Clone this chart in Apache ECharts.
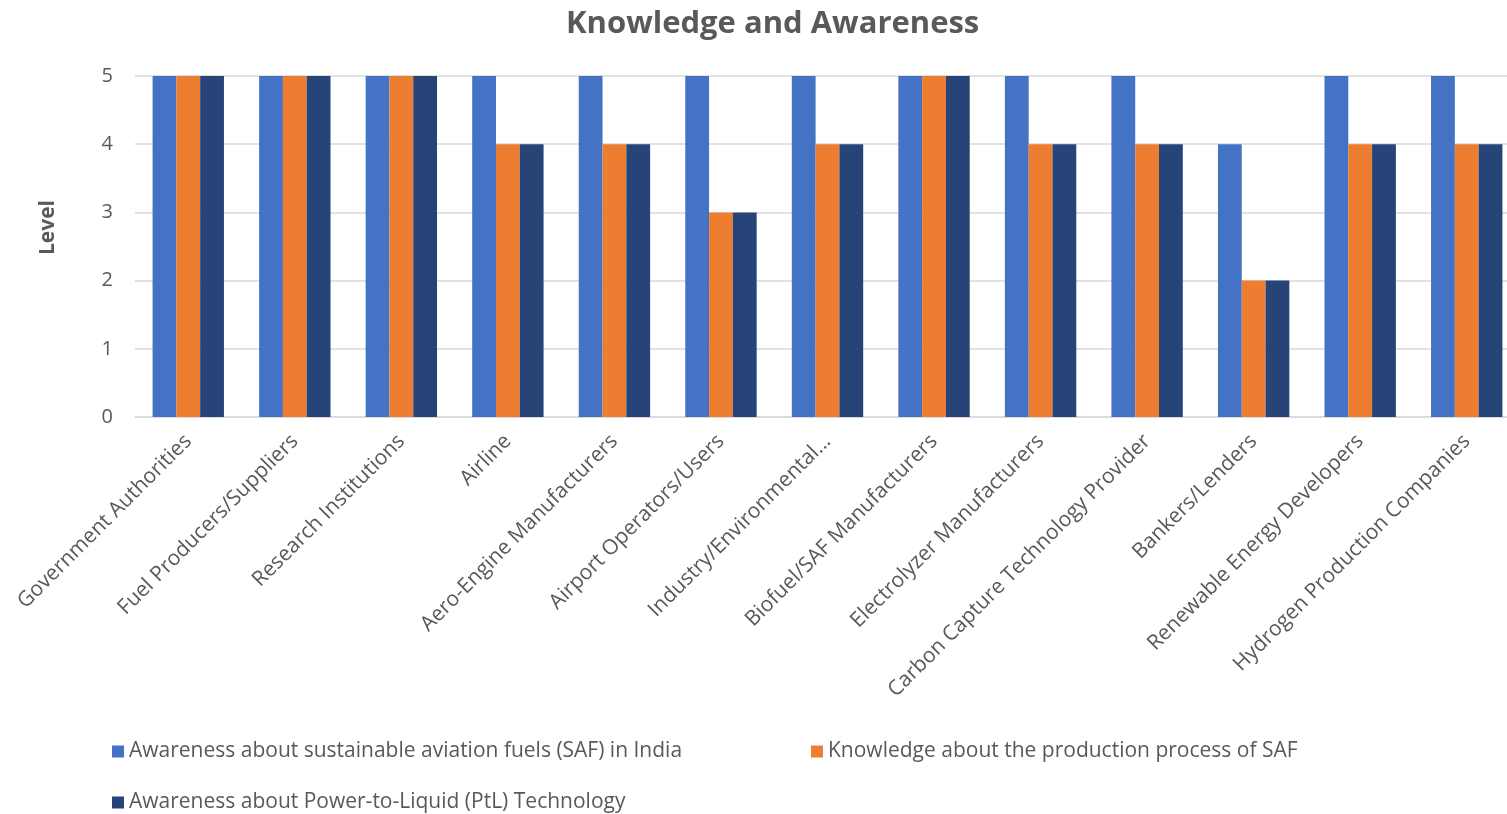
<!DOCTYPE html>
<html>
<head>
<meta charset="utf-8">
<script src="https://cdn.jsdelivr.net/npm/echarts@6/dist/echarts.min.js"></script>
<style>
  html, body { margin: 0; padding: 0; background: #fff; overflow: hidden; }
  /* the plot area runs a little past the right edge of the window */
  #chart { width: 1530px; height: 814px; }
</style>
</head>
<body>
<div id="chart"></div>
<script>
// Stakeholder groups along the x axis
const categories = [
  'Government Authorities', 'Fuel Producers/Suppliers', 'Research Institutions',
  'Airline', 'Aero-Engine Manufacturers', 'Airport Operators/Users',
  'Industry/Environmental...', 'Biofuel/SAF Manufacturers', 'Electrolyzer Manufacturers',
  'Carbon Capture Technology Provider', 'Bankers/Lenders', 'Renewable Energy Developers',
  'Hydrogen Production Companies'
];

const seriesNames = [
  'Awareness about sustainable aviation fuels (SAF) in India',
  'Knowledge about the production process of SAF',
  'Awareness about Power-to-Liquid (PtL) Technology'
];

const safAwareness  = [5, 5, 5, 5, 5, 5, 5, 5, 5, 5, 4, 5, 5];
const safKnowledge  = [5, 5, 5, 4, 4, 3, 4, 5, 4, 4, 2, 4, 4];
const ptlAwareness  = [5, 5, 5, 4, 4, 3, 4, 5, 4, 4, 2, 4, 4];

const yTicks = [0, 1, 2, 3, 4, 5];

const colors = ['#4472C4', '#ED7D31', '#264478'];
const font = 'Open Sans, Noto Sans, sans-serif';
const textColor = '#595959';

const chart = echarts.init(document.getElementById('chart'));

const legendBase = {
  orient: 'horizontal',
  icon: 'rect',
  itemWidth: 12,
  itemHeight: 12,
  itemGap: 8,
  textStyle: { fontFamily: font, fontSize: 21, color: textColor },
  selectedMode: false
};

chart.setOption({
  animation: false,
  color: colors,
  title: {
    text: 'Knowledge and Awareness',
    left: 561,
    top: 4,
    textStyle: { fontFamily: font, fontSize: 31, fontWeight: 'bold', color: textColor }
  },
  legend: [
    Object.assign({}, legendBase, { data: [seriesNames[0]], left: 107, top: 736 }),
    Object.assign({}, legendBase, { data: [seriesNames[1]], left: 806, top: 736 }),
    Object.assign({}, legendBase, { data: [seriesNames[2]], left: 107, top: 787 })
  ],
  grid: { left: 135, width: 1385, top: 76, height: 341, containLabel: false },
  graphic: [{
    type: 'text',
    left: 38,
    top: 200,
    rotation: Math.PI / 2,
    style: {
      text: 'Level',
      fontFamily: font,
      fontSize: 21,
      fontWeight: 'bold',
      fill: textColor
    }
  }],
  xAxis: {
    type: 'category',
    data: categories,
    axisLine: { lineStyle: { color: '#d9d9d9', width: 1.5 } },
    axisTick: { show: false },
    axisLabel: {
      interval: 0,
      rotate: 45,
      margin: 21,
      fontFamily: font,
      fontSize: 21,
      color: textColor
    }
  },
  yAxis: {
    type: 'value',
    min: yTicks[0],
    max: yTicks[yTicks.length - 1],
    interval: 1,
    axisLine: { show: false },
    axisTick: { show: false },
    axisLabel: { fontFamily: font, fontSize: 20, color: textColor, margin: 22 },
    splitLine: { lineStyle: { color: '#d9d9d9', width: 1.5 } }
  },
  series: [
    { name: seriesNames[0], type: 'bar', data: safAwareness, barGap: '0%', barCategoryGap: '33%' },
    { name: seriesNames[1], type: 'bar', data: safKnowledge, barGap: '0%', barCategoryGap: '33%' },
    { name: seriesNames[2], type: 'bar', data: ptlAwareness, barGap: '0%', barCategoryGap: '33%' }
  ]
});
</script>
</body>
</html>
